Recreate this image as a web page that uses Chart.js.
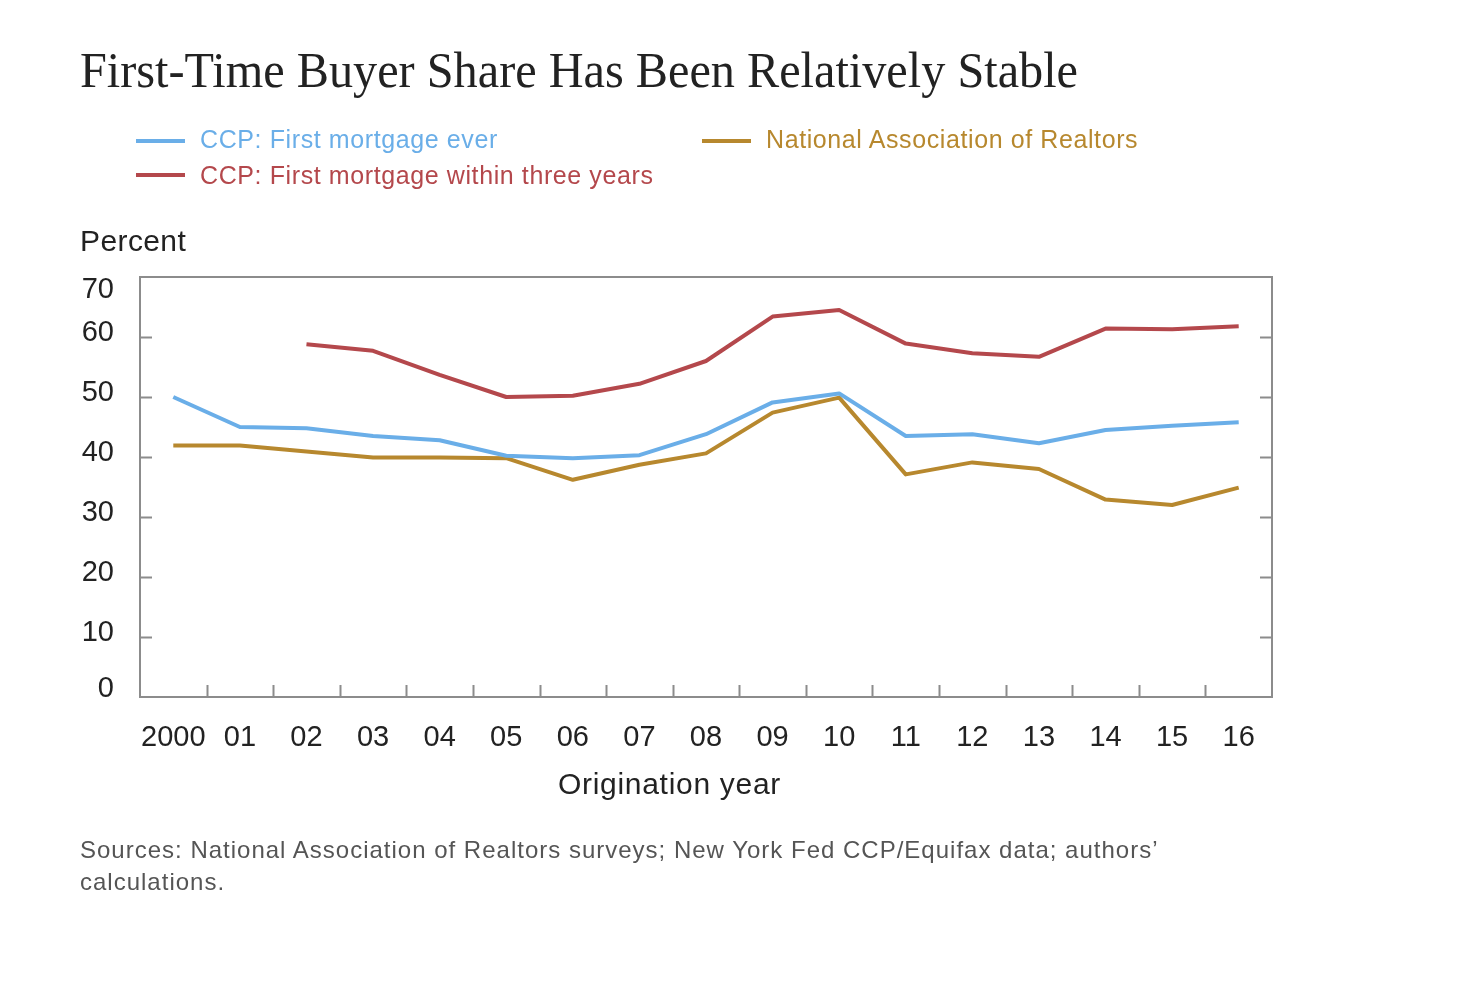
<!DOCTYPE html>
<html>
<head>
<meta charset="utf-8">
<script src="https://cdn.jsdelivr.net/npm/chart.js@4"></script>
<style>
  html, body { margin: 0; padding: 0; background: #fff; }
  body { width: 1458px; height: 982px; position: relative; overflow: hidden; font-family: "Liberation Sans", Arial, sans-serif; }
  #c { position: absolute; left: 0; top: 0; }
  .t { position: absolute; white-space: nowrap; }
  #title { left: 80px; top: 40px; font-family: "Liberation Serif", "DejaVu Serif", serif; font-size: 50px; color: #222; transform-origin: 0 0; line-height: 60px; }
  .leg { position: absolute; white-space: nowrap; font-size: 25px; letter-spacing: 0.6px; line-height: 28px; }
  .sw { position: absolute; height: 4px; width: 49px; }
  #percent { left: 80px; top: 224px; font-size: 30px; letter-spacing: 0.4px; color: #222; line-height: 34px; }
  #xtitle { left: 558px; top: 767px; font-size: 30px; letter-spacing: 0.7px; color: #222; line-height: 34px; }
  #src { left: 80px; top: 834px; font-size: 24px; letter-spacing: 1px; color: #555; line-height: 32px; }
</style>
</head>
<body>
<canvas id="c" width="1458" height="982"></canvas>
<div class="t" id="title">First-Time Buyer Share Has Been Relatively Stable</div>

<div class="sw" style="left:136px;top:139px;background:#6aaee8"></div>
<div class="leg" style="left:200px;top:125px;color:#6aaee8">CCP: First mortgage ever</div>
<div class="sw" style="left:136px;top:173px;background:#b4484c"></div>
<div class="leg" style="left:200px;top:161px;color:#b4484c">CCP: First mortgage within three years</div>
<div class="sw" style="left:702px;top:139px;background:#b7882e"></div>
<div class="leg" style="left:766px;top:125px;color:#b7882e">National Association of Realtors</div>

<div class="t" id="percent">Percent</div>
<div class="t" id="xtitle">Origination year</div>
<div class="t" id="src">Sources: National Association of Realtors surveys; New York Fed CCP/Equifax data; authors’<br>calculations.</div>

<script>
const years = ['2000','01','02','03','04','05','06','07','08','09','10','11','12','13','14','15','16'];
const ccpEver = [50.0, 45.0, 44.8, 43.5, 42.8, 40.2, 39.8, 40.3, 43.8, 49.1, 50.6, 43.5, 43.8, 42.3, 44.5, 45.2, 45.8];
const ccpThreeYears = [null, null, 58.8, 57.7, 53.7, 50.0, 50.2, 52.2, 56.0, 63.4, 64.5, 58.9, 57.3, 56.7, 61.4, 61.3, 61.8];
const nar = [41.9, 41.9, 40.9, 39.9, 39.9, 39.8, 36.2, 38.7, 40.6, 47.4, 49.9, 37.1, 39.1, 38.0, 32.9, 32.0, 34.9];
const yTicks = [0, 10, 20, 30, 40, 50, 60, 70];

// fit title width
(function(){
  const el = document.getElementById('title');
  const w = el.getBoundingClientRect().width;
  el.style.transform = 'scaleX(' + (998 / w) + ')';
})();

const AXIS = '#8c8c8c';
const framePlugin = {
  id: 'frame',
  beforeDatasetsDraw(chart) {
    const ctx = chart.ctx, a = chart.chartArea;
    const xs = chart.scales.x, ys = chart.scales.y;
    ctx.save();
    ctx.strokeStyle = AXIS;
    ctx.lineWidth = 2;
    ctx.strokeRect(a.left, a.top, a.right - a.left, a.bottom - a.top);
    ctx.beginPath();
    yTicks.forEach(v => {
      if (v === 0 || v === 70) return;
      const y = Math.round(ys.getPixelForValue(v)) + 0.5;
      ctx.moveTo(a.left, y); ctx.lineTo(a.left + 12, y);
      ctx.moveTo(a.right, y); ctx.lineTo(a.right - 12, y);
    });
    for (let i = 0; i < years.length - 1; i++) {
      const x = Math.round((xs.getPixelForValue(i) + xs.getPixelForValue(i + 1)) / 2) + 0.5;
      ctx.moveTo(x, a.bottom); ctx.lineTo(x, a.bottom - 12);
    }
    ctx.stroke();
    // y labels
    ctx.fillStyle = '#222';
    ctx.font = '29px "Liberation Sans", Arial, sans-serif';
    ctx.textAlign = 'right';
    ctx.textBaseline = 'middle';
    yTicks.forEach(v => {
      let y = ys.getPixelForValue(v) - 4;
      y = Math.max(a.top + 13, Math.min(a.bottom - 8, y));
      ctx.fillText(String(v), 114, y);
    });
    ctx.restore();
  }
};

new Chart(document.getElementById('c'), {
  type: 'line',
  data: {
    labels: years,
    datasets: [
      { label: 'CCP: First mortgage ever', data: ccpEver, borderColor: '#6aaee8' },
      { label: 'CCP: First mortgage within three years', data: ccpThreeYears, borderColor: '#b4484c' },
      { label: 'National Association of Realtors', data: nar, borderColor: '#b7882e' }
    ]
  },
  options: {
    responsive: false,
    animation: false,
    devicePixelRatio: 1,
    layout: { padding: { top: 277, right: 186, bottom: 185, left: 0 } },
    elements: {
      line: { borderWidth: 4, tension: 0, fill: false, borderCapStyle: 'butt', borderJoinStyle: 'round' },
      point: { radius: 0, hoverRadius: 0 }
    },
    plugins: { legend: { display: false }, title: { display: false }, tooltip: { enabled: false } },
    scales: {
      x: {
        type: 'category',
        offset: true,
        grid: { display: false },
        border: { display: false },
        ticks: { color: '#222', font: { family: '"Liberation Sans", Arial, sans-serif', size: 29 }, padding: 16, maxRotation: 0, autoSkip: false },
        afterFit(s) { s.height = 100; }
      },
      y: {
        min: 0, max: 70,
        grid: { display: false },
        border: { display: false },
        ticks: { display: false, stepSize: 10 },
        afterFit(s) { s.width = 140; }
      }
    }
  },
  plugins: [framePlugin]
});
</script>
</body>
</html>
